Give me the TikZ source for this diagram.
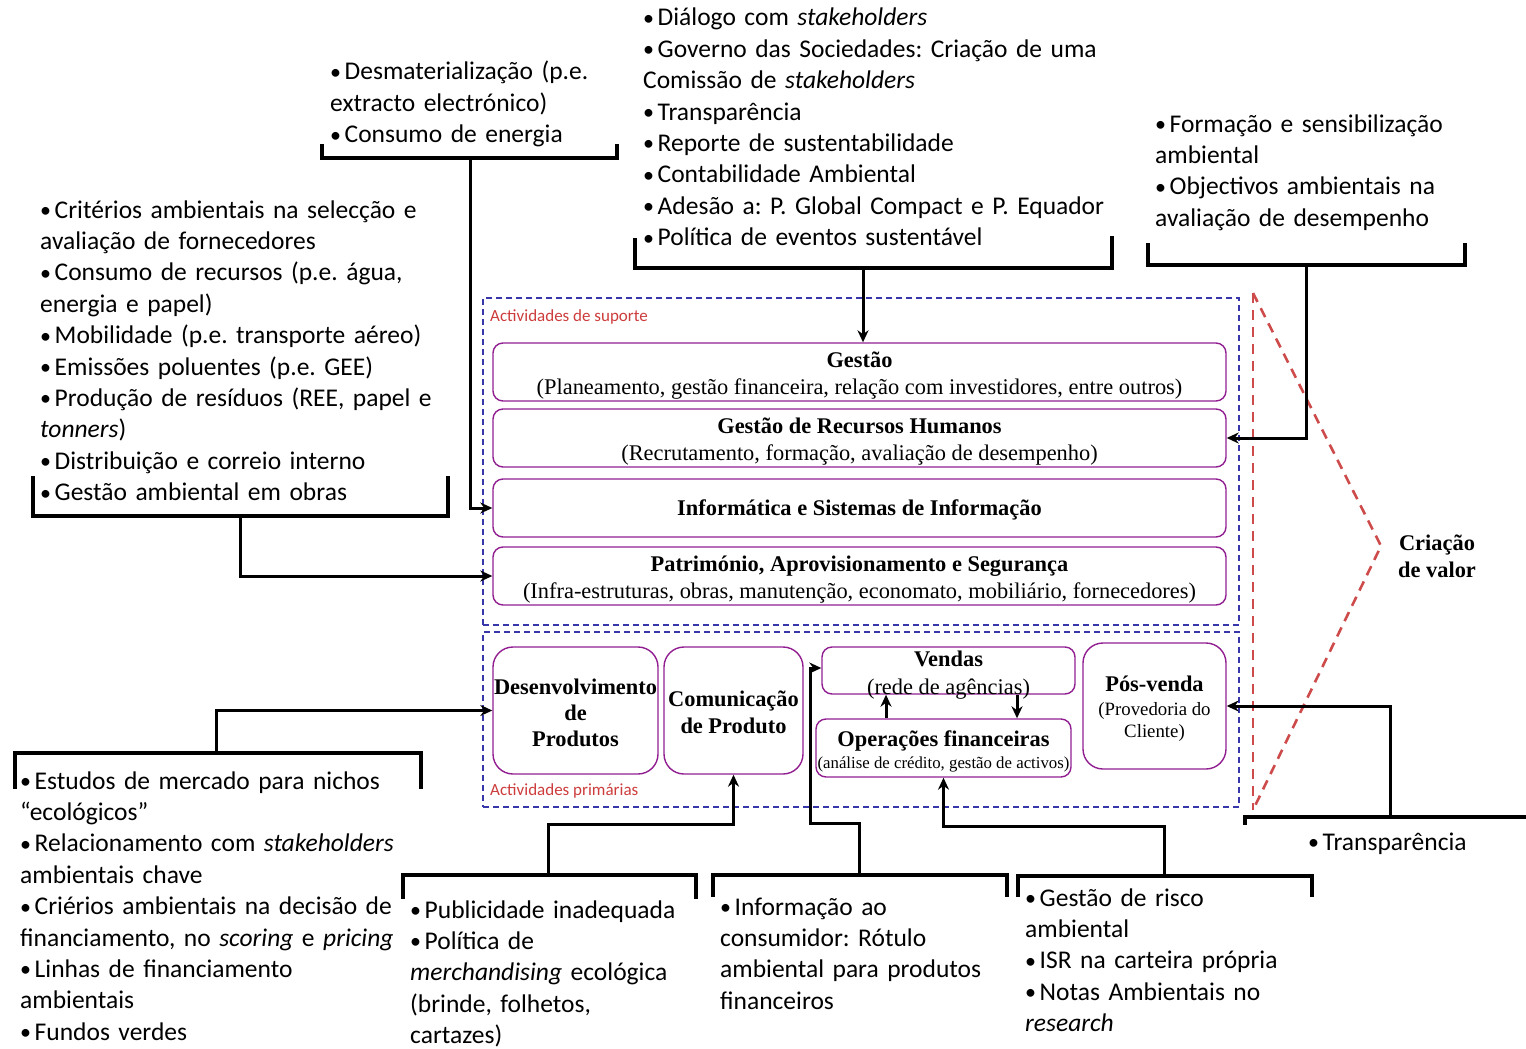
\documentclass[tikz,border=0pt]{standalone}
\usepackage{fontspec}
\setmainfont{Liberation Serif}
\newfontfamily\calfont{Carlito}
\usetikzlibrary{arrows.meta}
\frenchspacing
\newcommand\bu{\makebox[14.5pt][l]{\raisebox{0.6pt}{\fontsize{22}{22}\selectfont •}}}
\definecolor{boxpurple}{RGB}{145,30,145}
\definecolor{framblue}{RGB}{55,55,170}
\definecolor{lblred}{RGB}{205,60,60}
\definecolor{reddash}{RGB}{205,75,75}
\tikzset{
  bul/.style={anchor=base west, inner sep=0pt, text width=560pt, align=left,
    font=\calfont\fontsize{25.5}{31.4}\selectfont},
  box/.style={draw=boxpurple, line width=1.4pt, rounded corners=10pt, inner sep=0pt,
    align=center, font=\fontsize{22.4}{27}\selectfont},
  pbox/.style={box, rounded corners=20pt},
  frame/.style={draw=framblue, line width=1.3pt, dash pattern=on 6pt off 4pt, inner sep=0pt},
  lbl/.style={anchor=base west, inner sep=0pt, text=lblred, font=\calfont\fontsize{17}{20}\selectfont},
  brk/.style={line width=3.6pt, line cap=rect},
  conn/.style={line width=3pt, -{Stealth[length=12pt,width=11pt]}},
  vline/.style={draw=reddash, line width=2.6pt, dash pattern=on 10pt off 7pt},
}
\begin{document}
\begin{tikzpicture}[x=1pt,y=-1pt]
\useasboundingbox (0,0) rectangle (1526,1049);

% frames
\node[frame, minimum width=756pt, minimum height=327pt] (sup) at (861,461.5) {};
\node[frame, minimum width=756pt, minimum height=175pt] (pri) at (861,719.5) {};
\node[lbl] (lsup) at (490,321) {Actividades de suporte};
\node[lbl] (lpri) at (490,795) {Actividades primárias};

% support boxes
\node[box, minimum width=733pt, minimum height=58pt] (gestao) at (859.5,372) {};
\node[box, minimum width=733pt, minimum height=58pt] (grh) at (859.5,438) {};
\node[box, minimum width=733pt, minimum height=58pt] (info) at (859.5,508) {};
\node[box, minimum width=733pt, minimum height=58pt] (pat) at (859.5,576) {};
\node[box, draw=none] (gestaot) at ([yshift=-4pt]gestao.center)
  {\textbf{Gestão}\\(Planeamento, gestão financeira, relação com investidores, entre outros)};
\node[box, draw=none] (grht) at ([yshift=-4pt]grh.center)
  {\textbf{Gestão de Recursos Humanos}\\(Recrutamento, formação, avaliação de desempenho)};
\node[box, draw=none] (infot) at ([yshift=-2pt]info.center)
  {\textbf{Informática e Sistemas de Informação}};
\node[box, draw=none] (patt) at ([yshift=-4pt]pat.center)
  {\textbf{Património, Aprovisionamento e Segurança}\\(Infra-estruturas, obras, manutenção, economato, mobiliário, fornecedores)};

% primary boxes
\node[pbox, minimum width=165pt, minimum height=127pt] (desenv) at (575.5,710.5) {};
\node[box, draw=none, font=\bfseries\fontsize{22.4}{26}\selectfont] (desenvt) at ([yshift=-2pt]desenv.center)
  {Desenvolvimento\\de\\Produtos};
\node[pbox, minimum width=139pt, minimum height=127pt] (com) at (733.5,710.5) {};
\node[box, draw=none, font=\bfseries\fontsize{22.4}{27}\selectfont] (comt) at ([yshift=-2pt]com.center)
  {Comunicação\\de Produto};
\node[box, minimum width=253pt, minimum height=47pt] (vendas) at (948.5,670.5) {};
\node[box, draw=none] (vendast) at ([yshift=-4.5pt]vendas.center)
  {\textbf{Vendas}\\[1pt](rede de agências)};
\node[box, minimum width=255pt, minimum height=58pt] (ops) at (943.5,748) {};
\node[box, draw=none] (opst) at ([yshift=-3pt]ops.center)
  {\textbf{Operações financeiras}\\[-5pt]{\fontsize{16.8}{19}\selectfont(análise de crédito, gestão de activos)}};
\node[pbox, minimum width=143pt, minimum height=126pt] (pos) at (1154.5,706) {};
\node[box, draw=none] (post) at ([yshift=-3pt]pos.center)
  {\textbf{Pós-venda}\\[-3pt]{\fontsize{18.8}{22}\selectfont(Provedoria do}\\[-5pt]{\fontsize{18.8}{22}\selectfont Cliente)}};

% value creation
\draw[vline] (1253,293) -- (1253,810);
\draw[vline] (1253,293) -- (1381,546) -- (1253,810);
\node[inner sep=0pt, align=center, font=\bfseries\fontsize{22.4}{27}\selectfont] (valor) at (1437,556) {Criação\\de valor};

% text blocks
\node[bul] (tmid) at (643,26) {\bu Diálogo com \textit{stakeholders}\\
\bu Governo das Sociedades: Criação de uma\\
Comissão de \textit{stakeholders}\\
\bu Transparência\\
\bu Reporte de sustentabilidade\\
\bu Contabilidade Ambiental\\
\bu Adesão a: P. Global Compact e P. Equador\\
\bu Política de eventos sustentável};

\node[bul] (tdesm) at (330,80) {\bu Desmaterialização (p.e.\\
extracto electrónico)\\
\bu Consumo de energia};

\node[bul] (tleft) at (40,218) {\bu Critérios ambientais na selecção e\\
avaliação de fornecedores\\
\bu Consumo de recursos (p.e. água,\\
energia e papel)\\
\bu Mobilidade (p.e. transporte aéreo)\\
\bu Emissões poluentes (p.e. GEE)\\
\bu Produção de resíduos (REE, papel e\\
\textit{tonners})\\
\bu Distribuição e correio interno\\
\bu Gestão ambiental em obras};

\node[bul] (tright) at (1155,132) {\bu Formação e sensibilização\\
ambiental\\
\bu Objectivos ambientais na\\
avaliação de desempenho};

\node[bul] (tbl) at (20,789) {\bu Estudos de mercado para nichos\\
“ecológicos”\\
\bu Relacionamento com \textit{stakeholders}\\
ambientais chave\\
\bu Criérios ambientais na decisão de\\
financiamento, no \textit{scoring} e \textit{pricing}\\
\bu Linhas de financiamento\\
ambientais\\
\bu Fundos verdes};

\node[bul] (tpub) at (410,918) {\bu Publicidade inadequada\\
\bu Política de\\
\textit{merchandising} ecológica\\
(brinde, folhetos,\\
cartazes)};

\node[bul] (tinf) at (720,915) {\bu Informação ao\\
consumidor: Rótulo\\
ambiental para produtos\\
financeiros};

\node[bul] (trisk) at (1025,906) {\bu Gestão de risco\\
ambiental\\
\bu ISR na carteira própria\\
\bu Notas Ambientais no\\
\textit{research}};

\node[bul] (ttransp) at (1308,850) {\bu Transparência};

% brackets
\coordinate (bdesm) at (470,158);
\coordinate (btop) at (863,268);
\coordinate (btr) at (1306,265);
\coordinate (bleft) at (240,516);
\coordinate (bbl) at (216,753);
\coordinate (bpub) at (548,875);
\coordinate (binf) at (859,875);
\coordinate (brisk) at (1164,876);
\coordinate (btransp) at (1390,817);

\draw[brk] (322,146) -- (322,158) -- (617,158) -- (617,146);
\draw[brk] (635,240) -- (635,268) -- (1112,268) -- (1112,238);
\draw[brk] (1148,245) -- (1148,265) -- (1465,265) -- (1465,245);
\draw[brk] (33,478) -- (33,516) -- (448,516) -- (448,478);
\draw[brk] (15,787) -- (15,753) -- (421,753) -- (421,787);
\draw[brk] (403,897) -- (403,875) -- (696,875) -- (696,897);
\draw[brk] (713,895) -- (713,875) -- (1007,875) -- (1007,895);
\draw[brk] (1018,895) -- (1018,876) -- (1312,876) -- (1312,895);
\draw[brk] (1245,823) -- (1245,817) -- (1526,817);

% connectors
\draw[conn] (btop) -- (btop |- gestao.north);
\draw[conn] (btr) |- (grh.east);
\draw[conn] (bdesm) |- (info.west);
\draw[conn] (bleft) |- (pat.west);
\draw[conn] (bbl) |- (desenv.west);
\draw[conn] (bpub) -- ++(0,-51) -| (com.south);
\draw[conn] (binf) -- ++(0,-52) -- (810,823) |- ([yshift=2.5pt]vendas.west);
\draw[conn] (brisk) -- ++(0,-50) -| (ops.south);
\draw[conn] (btransp) |- (pos.east);
\draw[conn] ([xshift=-57.5pt]ops.north) -- ([xshift=-57.5pt]ops.north |- vendas.south);
\draw[conn] ([xshift=68.5pt]vendas.south) -- ([xshift=68.5pt]vendas.south |- ops.north);
\end{tikzpicture}
\end{document}
